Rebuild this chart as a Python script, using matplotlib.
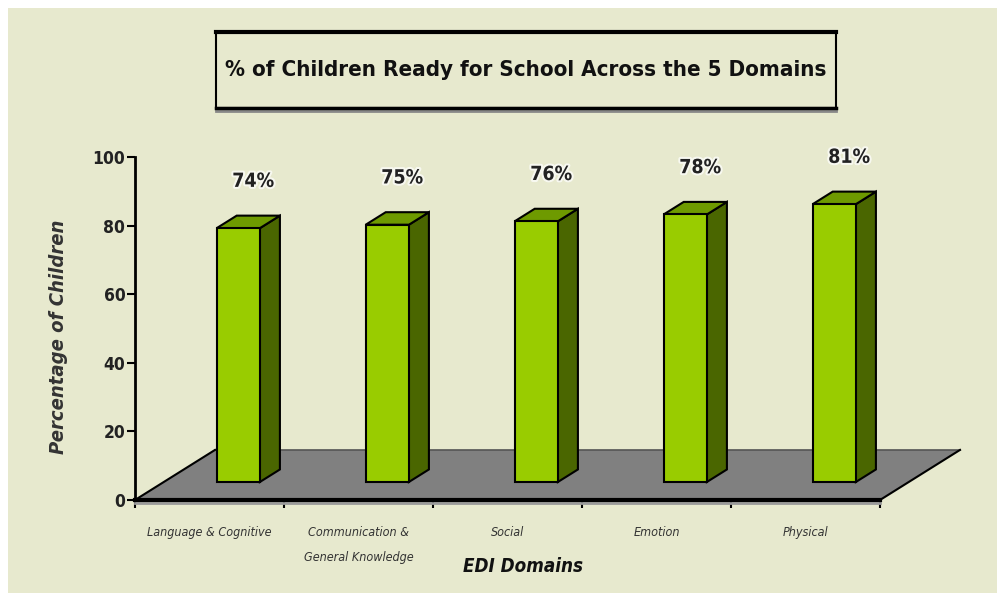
import matplotlib
matplotlib.use("Agg")
import matplotlib.pyplot as plt
from matplotlib.patches import Polygon, Rectangle
import matplotlib.patheffects as pe

# ---- data ----
categories = ["Language & Cognitive", "Communication &\nGeneral Knowledge",
              "Social", "Emotion", "Physical"]
values = [74, 75, 76, 78, 81]
value_labels = ["74%", "75%", "76%", "78%", "81%"]
yticks = [0, 20, 40, 60, 80, 100]
title = "% of Children Ready for School Across the 5 Domains"
xlabel = "EDI Domains"
ylabel = "Percentage of Children"

# ---- style ----
BG = "#E7E9CE"
FRONT = "#99CC00"
SIDE = "#4A6600"
TOP = "#6E9A00"
FLOOR = "#808080"
FONT = ["DejaVu Sans"]
ST = "condensed"

W, H = 997, 593
fig = plt.figure(figsize=(W / 100, H / 100), dpi=100)
fig.patch.set_facecolor("white")
fig.add_artist(Rectangle((8 / W, 0), 1, 1 - 8 / H, transform=fig.transFigure,
                         facecolor=BG, edgecolor="none", zorder=0))

ax = fig.add_axes([135 / W, (H - 500) / H, 745 / W, 343 / H])
ax.set_xlim(0, len(categories))
ax.set_ylim(0, 100)
ax.patch.set_alpha(0)

# floor depth (in data units)
FDX, FDY = 0.537, 14.6
n = len(categories)
floor = Polygon([(0, 0), (n, 0), (n + FDX, FDY), (FDX, FDY)], closed=True,
                facecolor=FLOOR, edgecolor="none", clip_on=False, zorder=1)
ax.add_patch(floor)
ax.plot([FDX, n + FDX], [FDY, FDY], color="#555555", lw=1.2, clip_on=False, zorder=2)
ax.plot([0, FDX], [0, FDY], color="black", lw=1.5, clip_on=False, zorder=2)
ax.plot([n, n + FDX], [0, FDY], color="black", lw=1.5, clip_on=False, zorder=2)
ax.plot([0, n], [-0.9, -0.9], color="#9a9a9a", lw=2, clip_on=False, zorder=2)

# bars
f = 0.36
bw = 0.29
d = 0.25
bx, by = d * FDX, d * FDY
base = f * FDY
halo = [pe.withStroke(linewidth=3, foreground="white", alpha=0.7)]
for i, v in enumerate(values):
    cx = i + 0.5 + f * FDX
    x0, x1 = cx - bw / 2, cx + bw / 2
    y0, y1 = base, base + v
    ax.bar(cx, v, width=bw, bottom=base, color=FRONT, edgecolor="black",
           linewidth=1.5, zorder=4, clip_on=False)
    ax.add_patch(Polygon([(x1, y0), (x1 + bx, y0 + by), (x1 + bx, y1 + by), (x1, y1)],
                         closed=True, facecolor=SIDE, edgecolor="black", lw=1.5,
                         zorder=3, clip_on=False))
    ax.add_patch(Polygon([(x0, y1), (x1, y1), (x1 + bx, y1 + by), (x0 + bx, y1 + by)],
                         closed=True, facecolor=TOP, edgecolor="black", lw=1.5,
                         zorder=3, clip_on=False))
    ax.text(cx + 0.1, v + 18.9, value_labels[i], ha="center", va="center",
            fontsize=14, fontweight="bold", family=FONT, stretch=ST, color="#222222",
            path_effects=halo, clip_on=False)

for s in ["top", "right"]:
    ax.spines[s].set_visible(False)
ax.spines["left"].set_linewidth(2)
ax.spines["bottom"].set_linewidth(3)
ax.spines["left"].set_zorder(5)
ax.spines["bottom"].set_zorder(5)

ax.set_yticks(yticks)
ax.set_yticklabels([str(t) for t in yticks], fontsize=12.5, fontweight="bold",
                   family=FONT, stretch=ST, color="#222222")
ax.tick_params(axis="y", direction="out", length=6, width=1.5, pad=1)

ax.set_xticks(range(n + 1))
ax.set_xticklabels([])
ax.tick_params(axis="x", which="major", direction="out", length=6, width=1.5)
ax.set_xticks([i + 0.5 for i in range(n)], minor=True)
ax.set_xticklabels(categories, minor=True, fontsize=9, style="italic",
                   family=FONT, stretch=ST, color="#333333", linespacing=2.2)
ax.tick_params(axis="x", which="minor", length=0, pad=19)

fig.text(523 / W, 1 - 567 / H, xlabel, ha="center", va="center", fontsize=13.5,
         fontweight="bold", style="italic", family=FONT, stretch=ST, color="#111111")
fig.text(58 / W, 1 - 337 / H, ylabel, ha="center", va="center", rotation=90,
         fontsize=14.5, fontweight="bold", style="italic", family=FONT, stretch=ST,
         color="#333333")

# title box
bx0, by0, bx1, by1 = 216 / W, 1 - 108 / H, 836 / W, 1 - 32 / H
fig.add_artist(Rectangle((bx0, by0), bx1 - bx0, by1 - by0, transform=fig.transFigure,
                         facecolor=BG, edgecolor="black", lw=1.5, zorder=2))
fig.add_artist(plt.Line2D([bx0, bx1], [by1, by1], transform=fig.transFigure,
                          color="black", lw=3, zorder=3))
fig.add_artist(plt.Line2D([bx0, bx1], [by0, by0], transform=fig.transFigure,
                          color="black", lw=2.5, zorder=3))
fig.add_artist(plt.Line2D([bx0, bx1], [by0 - 2.5 / H, by0 - 2.5 / H],
                          transform=fig.transFigure, color="#888888", lw=2, zorder=2))
fig.text(526 / W, 1 - 70 / H, title, ha="center", va="center", fontsize=16,
         fontweight="bold", family=FONT, stretch=ST, color="#111111", zorder=4)

fig.savefig("out.png", dpi=100, facecolor=fig.get_facecolor())
